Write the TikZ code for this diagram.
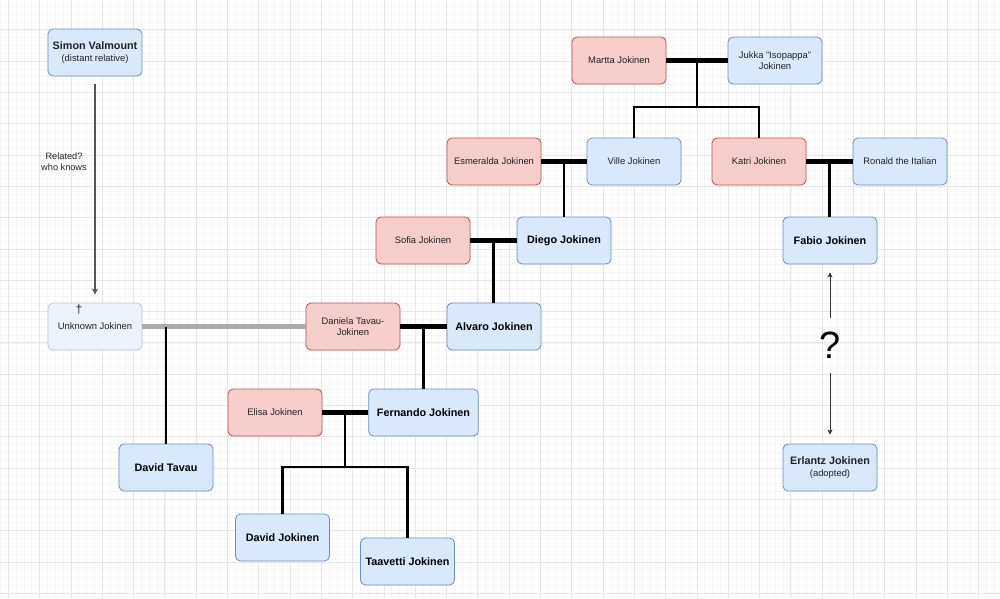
\documentclass[tikz,border=0pt]{standalone}
\usepackage{fontspec}
\setmainfont{Liberation Sans}
\usetikzlibrary{arrows.meta,calc}
\definecolor{bfill}{HTML}{DAE8FC}
\definecolor{bdraw}{HTML}{6C8EBF}
\definecolor{rfill}{HTML}{F8CECC}
\definecolor{rdraw}{HTML}{B85450}
\definecolor{ufill}{HTML}{ECF3FD}
\definecolor{udraw}{HTML}{B6C7DF}
\definecolor{txt}{HTML}{222222}
\definecolor{gminor}{HTML}{F5F5F5}
\definecolor{gmajor}{HTML}{E6E6E6}
\definecolor{gline}{HTML}{ABABAB}
\definecolor{aline}{HTML}{555555}
\begin{document}
\begin{tikzpicture}[x=1pt,y=-1pt,
  box/.style={rectangle,rounded corners=5pt,minimum width=94pt,minimum height=47pt,
    line width=0.8pt,align=center,text=txt,inner sep=2pt,
    font=\fontsize{9.4}{11.6}\selectfont},
  bluebox/.style={box,fill=bfill,draw=bdraw},
  redbox/.style={box,fill=rfill,draw=rdraw},
  unkbox/.style={box,fill=ufill,draw=udraw},
  bname/.style={font=\fontsize{10.8}{12.6}\selectfont\bfseries,text=black},
  twoline/.style={font=\fontsize{9.4}{12.6}\selectfont},
  marriage/.style={line width=4.7pt,black},
  grayline/.style={line width=4.7pt,gline},
  kid/.style={line width=2.2pt,black,line join=miter},
  relarrow/.style={line width=1.1pt,aline,-{Stealth[length=6pt,width=6pt,inset=1.5pt]}},
  qarrow/.style={line width=0.9pt,black!80,-{Stealth[length=5pt,width=5pt,inset=1.2pt]}}
]
\useasboundingbox (0,0) rectangle (1000,598);
\fill[white] (0,0) rectangle (1000,598);
% grid
\foreach \k in {0,...,127} \draw[gminor,line width=0.6pt] ({0.475+7.825*\k},0) -- ({0.475+7.825*\k},598);
\foreach \k in {1,...,77} \draw[gminor,line width=0.6pt] (0,{-1.5+7.825*\k}) -- (1000,{-1.5+7.825*\k});
\foreach \k in {0,...,31} \draw[gmajor,line width=0.8pt] ({8.3+31.3*\k},0) -- ({8.3+31.3*\k},598);
\foreach \k in {1,...,19} \draw[gmajor,line width=0.8pt] (0,{-1.5+31.3*\k}) -- (1000,{-1.5+31.3*\k});

% nodes
\node[bluebox,twoline] (simon) at (95,52.5) {{\bfseries\fontsize{10.8}{12.6}\selectfont Simon Valmount}\\(distant relative)};
\node[unkbox] (unknown) at (95,326.5) {Unknown Jokinen};
\node[text=txt,font=\fontsize{12}{12}\selectfont,inner sep=0pt] (dagger) at (79,310) {†};
\node[redbox] (daniela) at (353,326.5) {Daniela Tavau-\\Jokinen};
\node[bluebox,bname] (alvaro) at (494,326.5) {Alvaro Jokinen};
\node[redbox] (sofia) at (423,240.5) {Sofia Jokinen};
\node[bluebox,bname] (diego) at (564,240.5) {Diego Jokinen};
\node[redbox] (esmeralda) at (494,161.5) {Esmeralda Jokinen};
\node[bluebox] (ville) at (634,161.5) {Ville Jokinen};
\node[redbox] (katri) at (759,161.5) {Katri Jokinen};
\node[bluebox] (ronald) at (900,161.5) {Ronald the Italian};
\node[redbox] (martta) at (619,60.5) {Martta Jokinen};
\node[bluebox] (jukka) at (775,60.5) {Jukka "Isopappa"\\Jokinen};
\node[bluebox,bname] (fabio) at (830,240.5) {Fabio Jokinen};
\node[bluebox,twoline] (erlantz) at (830,467.5) {{\bfseries\fontsize{10.8}{12.6}\selectfont Erlantz Jokinen}\\(adopted)};
\node[redbox] (elisa) at (275,412.5) {Elisa Jokinen};
\node[bluebox,bname,minimum width=109.6pt] (fernando) at (423.5,412.5) {Fernando Jokinen};
\node[bluebox,bname] (dtavau) at (166,467.5) {David Tavau};
\node[bluebox,bname] (davidj) at (282.5,537.5) {David Jokinen};
\node[bluebox,bname] (taavetti) at (407.5,561.5) {Taavetti Jokinen};

% Simon -> Unknown
\draw[relarrow,shorten <=8pt,shorten >=8pt] (simon) -- (unknown);
\node[text=txt,align=center,font=\fontsize{9.2}{11}\selectfont] (rel) at (64,162) {Related?\\who knows};

% Martta + Jukka
\draw[marriage] (martta) -- (jukka);
\coordinate (mj) at ($(martta.east)!0.5!(jukka.west)$);
\coordinate (mjb) at ($(mj)+(0,46.5)$);
\draw[kid] (mj) -- (mjb);
\draw[kid] (mjb) -| (ville);
\draw[kid] (mjb) -| (katri);

% Esmeralda + Ville
\draw[marriage] (esmeralda) -- (ville);
\coordinate (ev) at ($(esmeralda.east)!0.5!(ville.west)$);
\draw[kid] (ev) -- (ev |- diego.north);

% Katri + Ronald
\draw[marriage] (katri) -- (ronald);
\coordinate (kr) at ($(katri.east)!0.5!(ronald.west)$);
\draw[kid] (kr) -- (kr |- fabio.north);

% Sofia + Diego
\draw[marriage] (sofia) -- (diego);
\coordinate (sd) at ($(sofia.east)!0.5!(diego.west)$);
\draw[kid] (sd) -- (sd |- alvaro.north);

% Daniela + Alvaro
\draw[marriage] (daniela) -- (alvaro);
\coordinate (da) at ($(daniela.east)!0.5!(alvaro.west)$);
\draw[kid] (da) -- (da |- fernando.north);

% Unknown + Daniela
\draw[grayline] (unknown) -- (daniela);
\coordinate (ud) at (dtavau |- unknown);
\draw[kid] (ud) -- (dtavau);

% Elisa + Fernando
\draw[marriage] (elisa) -- (fernando);
\coordinate (ef) at ($(elisa.east)!0.5!(fernando.west)$);
\coordinate (efb) at ($(ef)+(0,54.5)$);
\draw[kid] (ef) -- (efb);
\draw[kid] (efb) -| (davidj);
\draw[kid] (efb) -| (taavetti);

% Fabio ? Erlantz
\node[text=black,font=\fontsize{38}{38}\selectfont,minimum height=55pt,inner sep=0pt] (q) at (830,345.5) {?};
\draw[qarrow,shorten >=8pt] (q) -- (fabio);
\draw[qarrow,shorten >=9pt] (q) -- (erlantz);
\end{tikzpicture}
\end{document}
